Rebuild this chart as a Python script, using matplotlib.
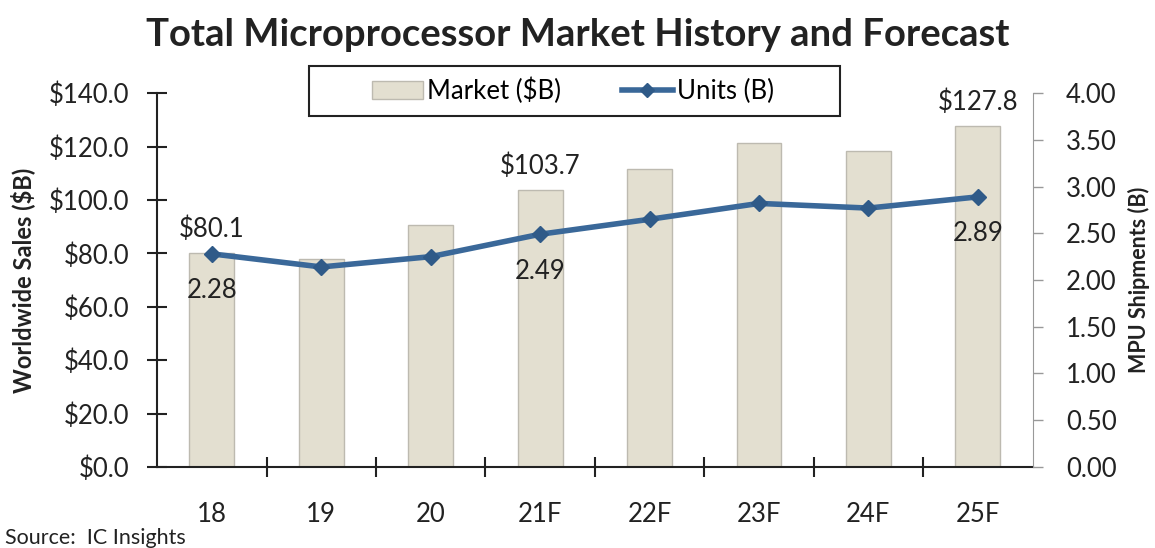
import matplotlib
matplotlib.use("Agg")
import matplotlib.pyplot as plt
from matplotlib.lines import Line2D
from matplotlib.patches import Patch, Rectangle
import numpy as np

plt.rcParams['font.family'] = ['Lato', 'DejaVu Sans']

years = ['18', '19', '20', '21F', '22F', '23F', '24F', '25F']
market = [80.1, 77.8, 90.7, 103.7, 111.6, 121.5, 118.4, 127.8]
units = [2.28, 2.14, 2.25, 2.49, 2.65, 2.82, 2.77, 2.89]
market_labels = {0: '$80.1', 3: '$103.7', 7: '$127.8'}
unit_labels = {0: '2.28', 3: '2.49', 7: '2.89'}

bar_col = '#E3DFD0'
line_col = '#3A6899'
txt = '#222222'
fs = 18.5
W, H = 1155, 548

fig = plt.figure(figsize=(11.55, 5.48), dpi=100)
ax = fig.add_axes([0.136, 0.148, 0.758, 0.682])
x = np.arange(len(years))

ax.bar(x, market, width=0.41, color=bar_col, edgecolor='#BDBAB0', linewidth=1, zorder=2)
ax.set_xlim(-0.5, len(years) - 0.5)
ax.set_ylim(0, 140)
ax.set_yticks(np.arange(0, 141, 20))
ax.set_yticklabels(['$%.1f' % v for v in np.arange(0, 141, 20)], fontsize=fs, color=txt)
ax.set_xticks(x)
ax.set_xticklabels(years, fontsize=fs, color=txt)
ax.tick_params(axis='x', length=0, pad=25)
ax.set_xticks(np.arange(0.5, len(years) - 1, 1), minor=True)
ax.tick_params(axis='x', which='minor', direction='inout', length=14, width=1.5, color='#222222')
ax.tick_params(axis='y', direction='inout', length=14, width=1.5, color='#222222', pad=13)
for s in ['top', 'right']:
    ax.spines[s].set_visible(False)
ax.spines['left'].set_linewidth(1.5)
ax.spines['bottom'].set_linewidth(1.5)
ax.spines['left'].set_color('#222222')
ax.spines['bottom'].set_color('#222222')
ax.set_ylabel('Worldwide Sales ($B)', fontsize=17, fontweight='bold', color=txt, labelpad=10)

for i, lab in market_labels.items():
    ax.text(x[i], market[i] + 4, lab, ha='center', va='bottom', fontsize=fs, color=txt, zorder=5)

ax2 = ax.twinx()
ax2.set_ylim(0, 4)
ax2.set_yticks(np.arange(0, 4.01, 0.5))
ax2.set_yticklabels(['%.2f' % v for v in np.arange(0, 4.01, 0.5)], fontsize=fs, color=txt)
ax2.tick_params(axis='y', direction='out', length=7, width=1, color='#999999', pad=17)
for s in ['top', 'left', 'bottom']:
    ax2.spines[s].set_visible(False)
ax2.spines['right'].set_color('#999999')
ax2.plot(x, units, color=line_col, linewidth=4, marker='D', markersize=8,
         markerfacecolor='#2F5A88', markeredgecolor='#2F5A88', zorder=4)
ax2.set_ylabel('MPU Shipments (B)', fontsize=15.5, fontweight='bold', color=txt, labelpad=8)

for i, lab in unit_labels.items():
    ax2.text(x[i], units[i] - 0.26, lab, ha='center', va='top', fontsize=fs, color=txt, zorder=5)

# legend: entries without frame, box drawn separately
handles = [Patch(facecolor=bar_col, edgecolor='#BDBAB0'),
           Line2D([0], [0], color=line_col, linewidth=4, marker='D', markersize=7,
                  markerfacecolor='#2F5A88', markeredgecolor='#2F5A88')]
leg = fig.legend(handles, ['Market ($B)', 'Units (B)'], loc='center left', ncol=2,
                 bbox_to_anchor=(372 / W, 1 - 91 / H), bbox_transform=fig.transFigure,
                 fontsize=fs, frameon=False, borderpad=0, columnspacing=2.35,
                 handlelength=2.0, handletextpad=0.15, borderaxespad=0)
leg.set_zorder(10)
fig.patches.append(Rectangle((309 / W, 1 - 116 / H), 531 / W, 50 / H, transform=fig.transFigure,
                             facecolor='white', edgecolor='#222222', linewidth=1.5, zorder=9))

fig.text(0.5, 1 - 35 / H, 'Total Microprocessor Market History and Forecast', ha='center', va='center',
         fontsize=27.5, fontweight='bold', color=txt)
fig.text(5 / W, 1 - 538 / H, 'Source:  IC Insights', ha='left', va='center', fontsize=15.5, color=txt)

fig.savefig('out.png', dpi=100)
